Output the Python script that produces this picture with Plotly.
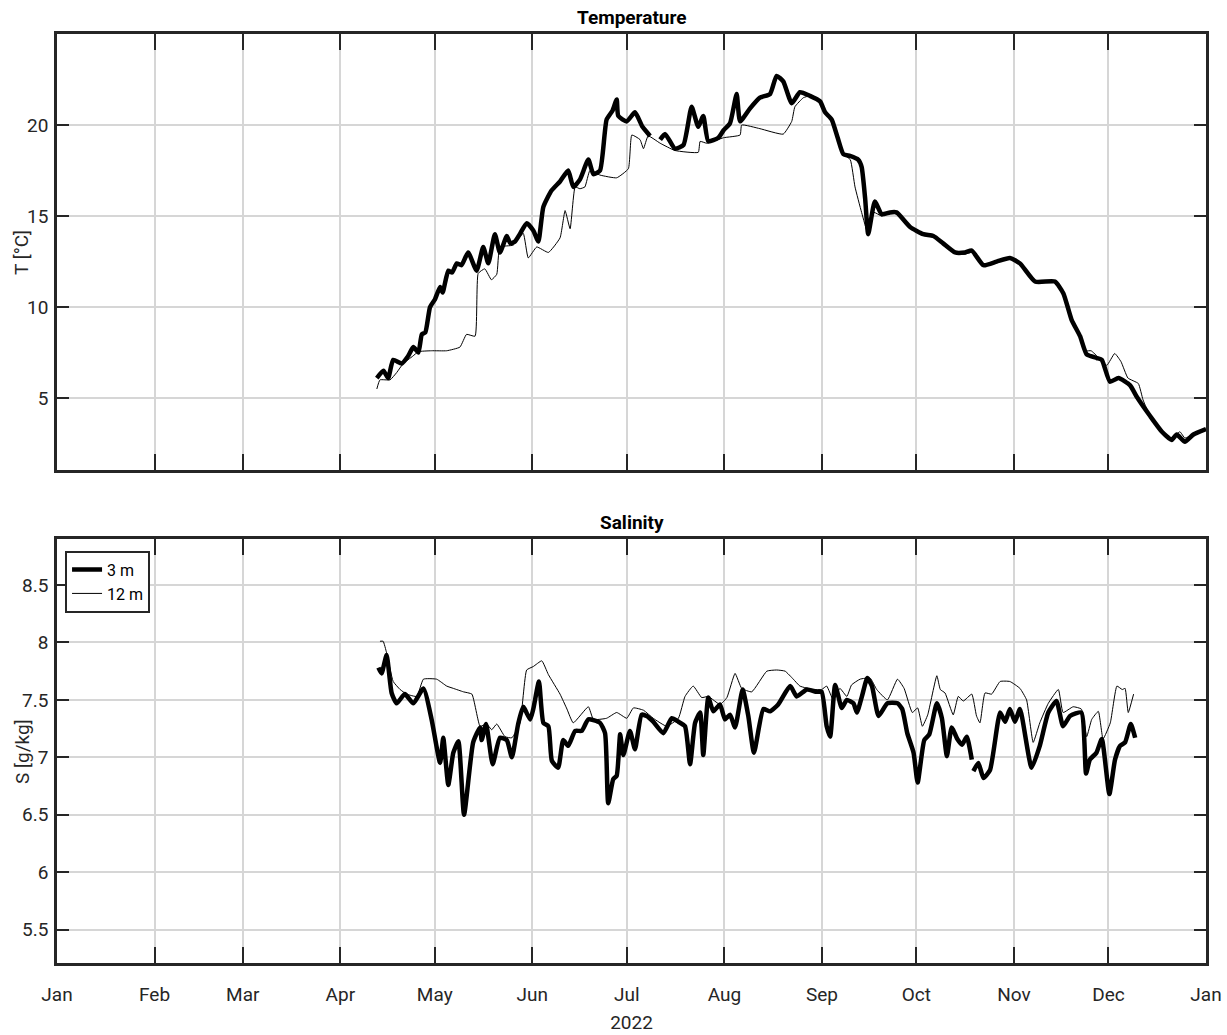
import pandas as pd
import plotly.graph_objects as go
from plotly.subplots import make_subplots

# Mooring record, 2022 (x values are days since 2022-01-01)
t3_days = [101.6, 103.7, 105.2, 106.8, 109.5, 111.5, 113.2, 114.8, 115.9, 117, 118.5, 120, 121.7, 122.5,
           124.3, 125.5, 127, 128.5, 130.6, 133.3, 135.4, 137, 139.1, 140.7, 142.9, 144, 145.5, 147,
           149.2, 151.3, 152.9, 154.5, 157.1, 159.8, 162.4, 164, 166.1, 168.8, 170.4, 172.5, 174.6,
           176.5, 177.8, 178.3, 181, 183.6, 186, 188.4, 190, 191.6, 193.2, 196.3, 199, 201.6, 203.7,
           205.3, 206.9, 210.1, 211.7, 213.8, 215.9, 217, 220.1, 223.3, 226.5, 228.6, 230.7, 233.4,
           236, 239.2, 242.4, 244, 246.1, 248, 249.8, 251.9, 254.5, 255.6, 256.7, 257.7, 259.8, 262,
           264.6, 266.7, 271, 275.2, 278.4, 281.5, 285.3, 288.4, 290.6, 294.3, 298.5, 302.7, 305.9,
           310.7, 317, 319.7, 322.3, 325, 327.1, 330.3, 331.9, 334.5, 337.2, 340.9, 343, 347.3, 351,
           354.1, 355.7, 358.3, 361, 365]
t3_vals = [6.1, 6.5, 6.1, 7.1, 6.9, 7.3, 7.8, 7.5, 8.5, 8.6, 10.0, 10.4, 11.1, 10.8,
           12.0, 11.9, 12.4, 12.3, 13.0, 12.0, 13.3, 12.4, 14.0, 13.0, 13.9, 13.5, 13.6, 14.0,
           14.6, 14.2, 13.6, 15.5, 16.4, 16.9, 17.5, 16.6, 17.0, 18.1, 17.3, 17.5, 20.3,
           20.8, 21.4, 20.5, 20.2, 20.7, 19.9, 19.4, None, 19.2, 19.5, 18.7, 18.9, 21.0, 19.9,
           20.5, 19.1, 19.3, 19.7, 20.1, 21.7, 20.2, 20.9, 21.5, 21.7, 22.7, 22.4, 21.2,
           21.8, 21.6, 21.3, 20.7, 20.3, 19.3, 18.4, 18.3, 18.1, 17.7, 16.0, 14.0, 15.8, 15.1,
           15.2, 15.2, 14.4, 14.0, 13.9, 13.5, 13.0, 13.0, 13.1, 12.3, 12.5, 12.7, 12.4,
           11.4, 11.4, 10.75, 9.3, 8.4, 7.4, 7.2, 7.1, 5.9, 6.1, 5.7, 5.07, 4.0, 3.15,
           2.7, 3.0, 2.6, 3.0, 3.3]

t12_days = [101.6, 102.6, 105.8, 107.9, 110, 113, 114.8, 119, 123.8, 128, 130.1, 132.8, 133.8, 135.9,
            138, 139.7, 140.7, 144.9, 148.1, 149.7, 152.4, 156.1, 159.8, 161.4, 163, 164.6, 166.1,
            167.7, 169.3, 172.5, 177.8, 181.5, 182.6, 185.2, 186.3, 187.8, 191.6, 196.3, 203.7,
            204.3, 206.4, 211.7, 217, 217.5, 223.3, 230.7, 233.4, 234.4, 237.1, 239.2, 242.4, 244,
            246.1, 248, 249.8, 252, 253.5, 255.6, 257.7, 259.5, 262, 264.6, 266.7, 271, 275.2,
            278.4, 281.5, 285.3, 288.4, 290.6, 294.3, 298.5, 302.7, 305.9, 310.7, 317, 319.7,
            322.3, 325, 327, 328.5, 331, 333.5, 336, 338, 340.2, 343.5, 345, 347.3, 351, 354,
            356.7, 358.3, 361, 365]
t12_vals = [5.5, 6.0, 6.0, 6.4, 6.9, 7.3, 7.55, 7.6, 7.6, 7.8, 8.5, 8.4, 11.85, 12.1,
            11.5, 11.8, 13.3, 13.4, 14.05, 12.7, 13.3, 13.0, 13.8, 15.3, 14.3, 16.6, 16.5,
            16.6, 17.5, 17.25, 17.1, 17.6, 19.45, 19.2, 18.7, 19.4, 19.0, 18.6, 18.5,
            19.1, 19.0, 19.3, 19.45, 20.0, 19.8, 19.5, 20.2, 21.0, 21.5, 21.6, 21.3, 20.7,
            20.3, 19.3, 18.4, 18.1, 16.6, 15.2, 14.0, 15.2, 15.0, 15.2, 15.1, 14.4, 14.0,
            13.9, 13.5, 12.95, 12.9, 13.0, 12.3, 12.5, 12.7, 12.4, 11.4, 11.4, 10.75,
            9.3, 8.4, 7.6, 7.6, 7.2, 6.8, 7.45, 7.0, 6.1, 5.8, 4.9, 4.0, 3.2, 2.8,
            3.15, 2.8, 3.0, 3.3]

s3_days = [102.1, 103.1, 104.7, 106.3, 107.9, 110.5, 113.2, 116.4, 119, 121.7, 122.7, 124.3, 125.9,
           127.5, 129.3, 132.2, 134.4, 134.9, 136.3, 138.4, 140.7, 142.9, 144.5, 146.5, 148.1,
           150.3, 151.3, 153.1, 154.5, 156.1, 157.2, 159.2, 160.8, 162.4, 164.6, 166.7, 168.8,
           172.5, 174.1, 175.1, 176.7, 177.8, 178.9, 179.9, 182, 183.6, 185.7, 187.3, 189.4,
           192.6, 195.3, 197.4, 199.5, 201.1, 202.7, 204.3, 205.3, 206.9, 208.5, 210.6, 212.2,
           213.8, 215.4, 217.8, 219.6, 221.4, 224.4, 226.5, 229.1, 232.9, 235, 238.2, 241.3,
           242.9, 244.5, 245.6, 247.2, 249.3, 250.9, 253, 254.1, 255.7, 257.4, 258.9, 261,
           263.8, 267, 268.5, 270.1, 272.1, 273.4, 275.5, 277.1, 279.5, 281.1, 282.7, 284.2,
           286, 287.5, 289, 290.6, 290.9, 291.1, 292.7, 294.3, 296.4, 299.6, 301.2, 302.7, 304.3,
           305.9, 309.6, 312.2, 314.9, 317.5, 319.6, 321.8, 325.4, 326.9, 328.1, 330.2, 331.9,
           334.3, 336.1, 337.7, 339.3, 341.1, 342.5]
s3_vals = [7.78, 7.73, 7.89, 7.56, 7.47, 7.55, 7.47, 7.6, 7.33, 6.95, 7.17, 6.76, 7.04,
           7.14, 6.5, 7.13, 7.26, 7.15, 7.29, 6.94, 7.17, 7.15, 7.0, 7.29, 7.44,
           7.33, 7.42, 7.66, 7.3, 7.27, 6.97, 6.91, 7.15, 7.1, 7.23, 7.23, 7.33,
           7.3, 7.21, 6.6, 6.81, 6.84, 7.2, 7.02, 7.23, 7.07, 7.37, 7.36, 7.31,
           7.21, 7.34, 7.31, 7.27, 6.94, 7.3, 7.39, 7.02, 7.52, 7.4, 7.46, 7.33,
           7.37, 7.26, 7.59, 7.36, 7.04, 7.42, 7.4, 7.46, 7.62, 7.53, 7.59, 7.57,
           7.57, 7.27, 7.18, 7.63, 7.43, 7.5, 7.47, 7.39, 7.53, 7.69, 7.62, 7.36,
           7.47, 7.47, 7.42, 7.21, 7.04, 6.78, 7.15, 7.2, 7.47, 7.34, 7.01, 7.26,
           7.16, 7.11, 7.18, 6.98, None, 6.88, 6.95, 6.82, 6.89, 7.39, 7.31, 7.42, 7.31,
           7.42, 6.91, 7.1, 7.39, 7.49, 7.27, 7.36, 7.39, 6.86, 6.98, 7.04, 7.16,
           6.68, 6.98, 7.1, 7.13, 7.29, 7.17]

s12_days = [102.6, 103.6, 104.7, 106.8, 109, 111.1, 114.3, 116.4, 120.6, 123.8, 125.9, 129.1, 131.8,
            134.4, 136.5, 138.1, 139.7, 142.3, 144.5, 147.1, 149.2, 151.3, 154, 156.1, 159.8,
            162, 164, 168.8, 170.4, 174.6, 177.8, 181, 183.1, 186.3, 189.4, 193.7, 197.4, 199.5,
            202.1, 204.8, 206.9, 210.6, 212.8, 215.4, 217.5, 220.7, 225.5, 228.6, 231.3, 233.9,
            236, 240.2, 242.9, 244.5, 246.6, 248.7, 250.9, 252.4, 255.1, 258.3, 260.4, 263.8,
            267, 269.1, 271.7, 273.4, 274.9, 276.6, 279.5, 280.6, 282.1, 284.7, 286.3, 287.9,
            290.6, 292.1, 293.2, 294.8, 296.9, 299.6, 302.7, 305.9, 308, 310.1, 312.2, 314.9,
            318.1, 319.6, 322.8, 325.4, 327.1, 328.7, 330.8, 332.3, 334.6, 336.7, 338.4, 339.3,
            340.3, 342]
s12_vals = [8.01, 8.01, 7.91, 7.66, 7.59, 7.55, 7.53, 7.68, 7.68, 7.62, 7.6, 7.57, 7.55,
            7.27, 7.29, 7.24, 7.29, 7.18, 7.17, 7.3, 7.76, 7.79, 7.84, 7.72, 7.55,
            7.42, 7.3, 7.44, 7.33, 7.34, 7.39, 7.34, 7.43, 7.41, 7.34, 7.27, 7.34, 7.53,
            7.62, 7.52, 7.53, 7.46, 7.52, 7.73, 7.6, 7.57, 7.75, 7.76, 7.75, 7.68,
            7.62, 7.59, 7.59, 7.62, 7.5, 7.6, 7.53, 7.63, 7.68, 7.69, 7.59, 7.5,
            7.68, 7.6, 7.39, 7.43, 7.27, 7.37, 7.71, 7.59, 7.56, 7.37, 7.53, 7.49,
            7.55, 7.36, 7.3, 7.56, 7.55, 7.66, 7.66, 7.6, 7.5, 7.13, 7.3, 7.47,
            7.59, 7.39, 7.44, 7.42, 7.18, 7.33, 7.4, 7.16, 7.3, 7.62, 7.59, 7.6,
            7.39, 7.55]

year_start = pd.Timestamp("2022-01-01")


def to_dates(days):
    return [year_start + pd.Timedelta(days=d) for d in days]


FONT = "Roboto, sans-serif"
AX = "#262626"
GRID = "#d6d6d6"
TICKFONT = dict(family=FONT, size=19, color=AX)

thick = dict(color="black", width=4.5, shape="spline", smoothing=0.5)
thin = dict(color="black", width=1, shape="spline", smoothing=0.4)

TOP_DOMAIN = [0.5307, 1.0]
BOTTOM_DOMAIN = [0.0, 0.4564]

fig = make_subplots(rows=2, cols=1, shared_xaxes=False)

fig.add_trace(go.Scatter(x=to_dates(t3_days), y=t3_vals, mode="lines", name="3 m",
                         line=thick, connectgaps=False, showlegend=False), row=1, col=1)
fig.add_trace(go.Scatter(x=to_dates(t12_days), y=t12_vals, mode="lines", name="12 m",
                         line=thin, showlegend=False), row=1, col=1)
fig.add_trace(go.Scatter(x=to_dates(s3_days), y=s3_vals, mode="lines", name="3 m",
                         line=thick, connectgaps=False), row=2, col=1)
fig.add_trace(go.Scatter(x=to_dates(s12_days), y=s12_vals, mode="lines", name="12 m",
                         line=thin), row=2, col=1)

xcommon = dict(
    type="date", range=["2022-01-01", "2023-01-01"], dtick="M1", tick0="2022-01-01",
    tickformat="%b", ticks="inside", ticklen=16, tickwidth=2, tickcolor=AX,
    showline=True, linecolor=AX, linewidth=2.5, mirror="ticks",
    showgrid=True, gridcolor=GRID, gridwidth=1.5, zeroline=False,
    tickfont=TICKFONT, ticklabelstandoff=12, automargin=False,
)
fig.update_xaxes(**xcommon)
fig.update_xaxes(showticklabels=False, row=1, col=1)
fig.update_xaxes(title=dict(text="2022", font=TICKFONT, standoff=12), row=2, col=1)

ycommon = dict(
    ticks="inside", ticklen=12, tickwidth=2, tickcolor=AX,
    showline=True, linecolor=AX, linewidth=2.5, mirror="ticks",
    showgrid=True, gridcolor=GRID, gridwidth=1.5, zeroline=False,
    tickfont=TICKFONT, ticklabelstandoff=2, automargin=False,
)
fig.update_yaxes(**ycommon)
fig.update_yaxes(range=[1.05, 25.0], tickvals=[5, 10, 15, 20], row=1, col=1)
fig.update_yaxes(range=[5.21, 8.9], tickvals=[5.5, 6, 6.5, 7, 7.5, 8, 8.5], row=2, col=1)


def panel_title(text, top):
    return dict(text=f"<b>{text}</b>", x=0.5, y=top, xref="paper", yref="paper",
                xanchor="center", yanchor="bottom", yshift=3, showarrow=False,
                font=dict(family=FONT, size=19, color="black"))


def y_label(text, domain):
    return dict(text=text, x=-0.0305, y=sum(domain) / 2, xref="paper", yref="paper",
                xanchor="center", yanchor="middle", textangle=-90, showarrow=False,
                font=TICKFONT)


fig.update_layout(
    width=1227, height=1035,
    margin=dict(l=57, r=21, t=34, b=72),
    plot_bgcolor="white", paper_bgcolor="white",
    xaxis=dict(domain=[0, 1]), yaxis=dict(domain=TOP_DOMAIN),
    xaxis2=dict(domain=[0, 1]), yaxis2=dict(domain=BOTTOM_DOMAIN),
    legend=dict(x=0.007, y=0.4438, xanchor="left", yanchor="top",
                bgcolor="white", bordercolor=AX, borderwidth=2,
                font=dict(family=FONT, size=16, color="black"),
                itemwidth=30, tracegroupgap=0),
    annotations=[
        panel_title("Temperature", TOP_DOMAIN[1]),
        panel_title("Salinity", BOTTOM_DOMAIN[1]),
        y_label("T [°C]", TOP_DOMAIN),
        y_label("S [g/kg]", BOTTOM_DOMAIN),
    ],
)

fig.write_html("out.html")
